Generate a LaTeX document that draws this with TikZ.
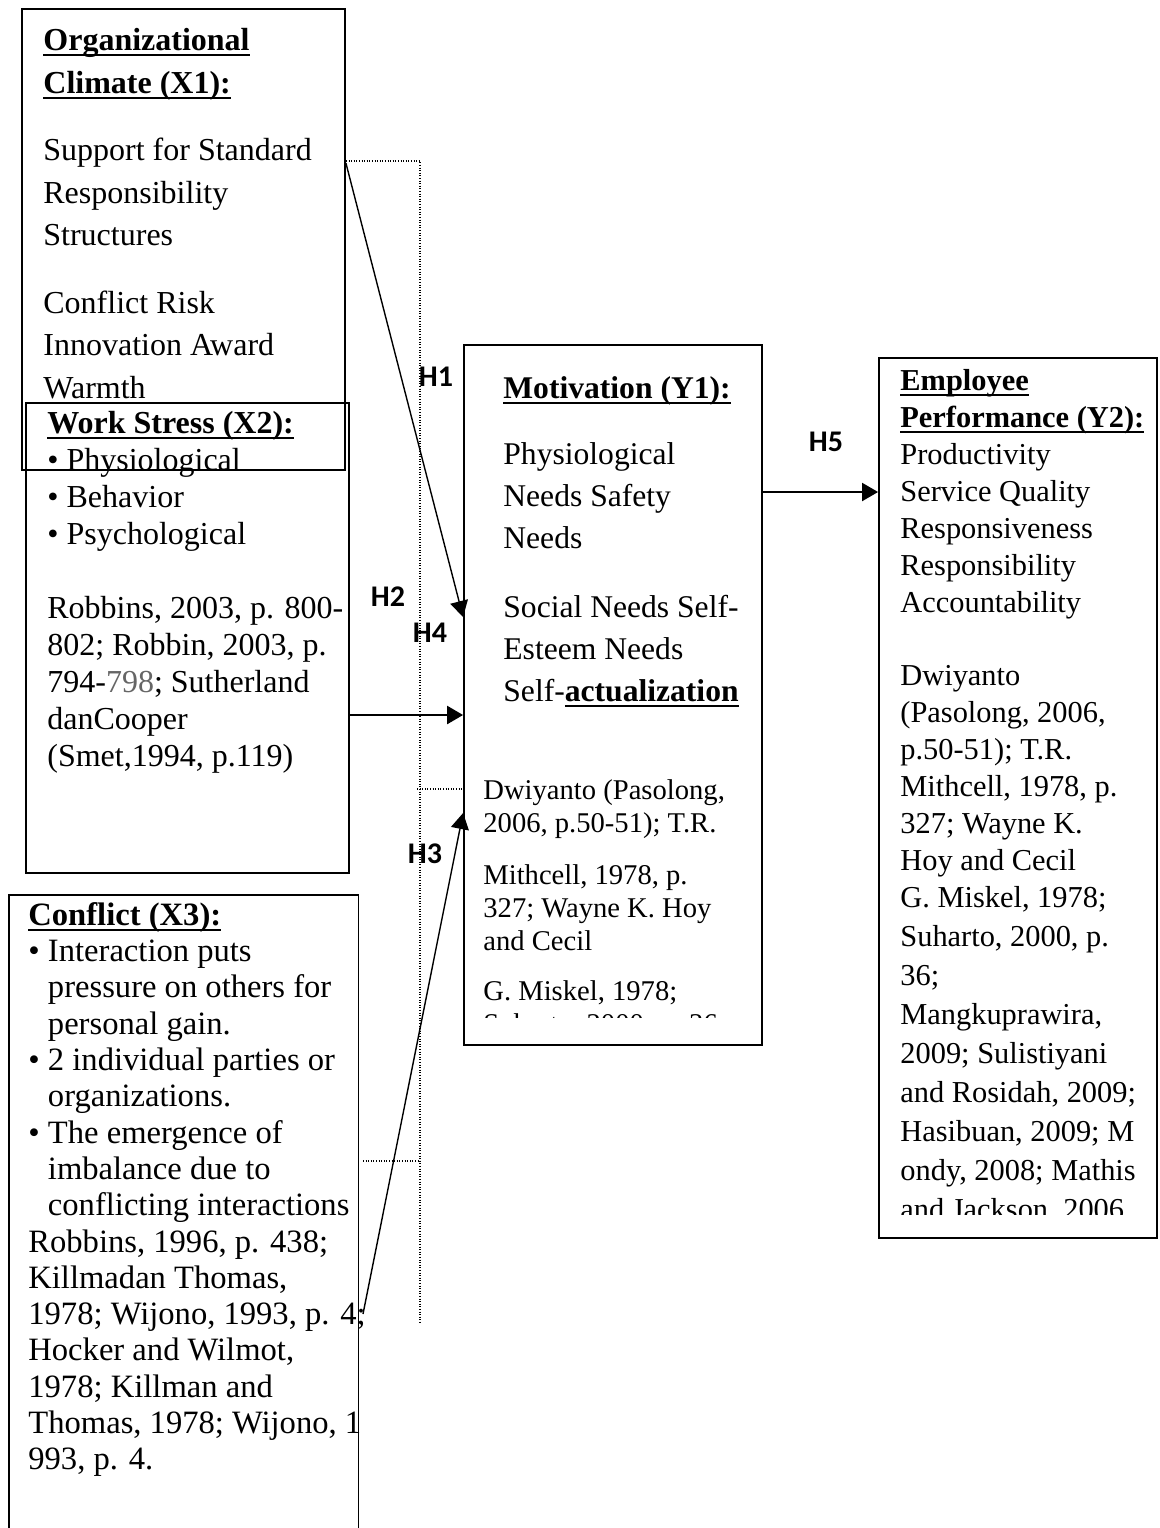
\documentclass[tikz,border=0pt]{standalone}
\usepackage{fontspec}
\setmainfont{Liberation Serif}
\newfontfamily\hlabelfont{Carlito}
\usetikzlibrary{arrows.meta,fit}
% bold heading with a Word-like underline
\newcommand\hdul[1]{\setbox0=\hbox{\bfseries #1}\rlap{\rule[-2.8pt]{\wd0}{1.1pt}}\box0}

\tikzset{
  box/.style={draw, line width=0.9pt, inner sep=0pt},
  blocktext/.style={anchor=north west, align=left, inner sep=0pt},
  hlabel/.style={font=\hlabelfont\bfseries\fontsize{15}{18}\selectfont, inner sep=0pt},
  link/.style={-{Triangle[length=8pt,width=9pt]}, line width=0.7pt},
  bracket/.style={line width=0.6pt, dash pattern=on 0.5pt off 0.8pt}
}

\begin{document}
\begin{tikzpicture}[x=0.5pt,y=-0.5pt]
\useasboundingbox (0,0) rectangle (1160,1528);

% boxes
\node[box, fit={(22,9) (345,470)}] (x1) {};
\node[box, fit={(26,403) (349,873)}] (x2) {};
\node[inner sep=0pt, fit={(9,895) (358,1528)}] (x3) {};
\draw[line width=0.9pt] (x3.south west) |- (x3.north east) -- (x3.south east);
\node[box, fit={(464,345) (762,1045)}] (mot) {};
\node[box, fit={(879,358) (1157,1238)}] (emp) {};

% texts of the boxes
\node[blocktext, font=\fontsize{16}{21.25}\selectfont] (x1txt) at (43,28)
  {\hdul{Organizational}\\ \hdul{Climate (X1):}\\[12.5pt]
   Support for Standard\\ Responsibility\\ Structures\\[12.5pt]
   Conflict Risk\\ Innovation Award\\ Warmth};
\node[blocktext, font=\fontsize{16}{18.5}\selectfont] (x2txt) at (47,411)
  {\hdul{Work Stress (X2):}\\ \textbullet\ Physiological\\ \textbullet\ Behavior\\
   \textbullet\ Psychological\\[18.5pt]
   Robbins, 2003, p. 800-\\ 802; Robbin, 2003, p.\\
   794-{\color{black!60}798}; Sutherland\\ danCooper\\ (Smet,1994, p.119)};
\node[blocktext, font=\fontsize{16.3}{18.15}\selectfont] (x3txt) at (28,902)
  {\hdul{Conflict (X3):}\\
   \textbullet\ Interaction puts\\ \phantom{\textbullet\ }pressure on others for\\
   \phantom{\textbullet\ }personal gain.\\
   \textbullet\ 2 individual parties or\\ \phantom{\textbullet\ }organizations.\\
   \textbullet\ The emergence of\\ \phantom{\textbullet\ }imbalance due to\\
   \phantom{\textbullet\ }conflicting interactions\\
   Robbins, 1996, p. 438;\\ Killmadan Thomas,\\ 1978; Wijono, 1993, p. 4;\\
   Hocker and Wilmot,\\ 1978; Killman and\\ Thomas, 1978; Wijono, 1\\ 993, p. 4.};
\node[blocktext, font=\fontsize{15.8}{21}\selectfont] (mottxt) at (503,376)
  {\hdul{Motivation (Y1):}\\[12pt]
   Physiological\\ Needs Safety\\ Needs\\[13.5pt]
   Social Needs Self-\\ Esteem Needs\\ Self-\hdul{actualization}};
\begin{scope}
\clip (mot.north west) rectangle (762,1017);
\node[blocktext, font=\fontsize{14.3}{16.5}\selectfont] (motref) at (483,779)
  {Dwiyanto (Pasolong,\\ 2006, p.50-51); T.R.\\[9.5pt]
   Mithcell, 1978, p.\\ 327; Wayne K. Hoy\\ and Cecil\\[8.5pt]
   G. Miskel, 1978;\\ Suharto, 2000, p. 36;};
\end{scope}
\begin{scope}
\clip (emp.north west) rectangle (1157,1214);
\node[blocktext, font=\fontsize{15.2}{18.5}\selectfont] (emptxt) at (900,369)
  {\hdul{Employee}\\ \hdul{Performance (Y2):}\\
   Productivity\\ Service Quality\\ Responsiveness\\ Responsibility\\
   Accountability\\[18pt]
   Dwiyanto\\ (Pasolong, 2006,\\ p.50-51); T.R.\\ Mithcell, 1978, p.\\
   327; Wayne K.\\ Hoy and Cecil\\ G. Miskel, 1978;\\[1pt]
   Suharto, 2000, p.\\[1pt] 36;\\[1pt] Mangkuprawira,\\[1pt]
   2009; Sulistiyani\\[1pt] and Rosidah, 2009;\\[1pt] Hasibuan, 2009; M\\[1pt]
   ondy, 2008; Mathis\\[1pt] and Jackson, 2006};
\end{scope}

% hypothesis labels
\node[hlabel] (lh1) at (436,377) {H1};
\node[hlabel] (lh2) at (388,597) {H2};
\node[hlabel] (lh4) at (430,633) {H4};
\node[hlabel] (lh3) at (425,854) {H3};
\node[hlabel] (lh5) at (826,442) {H5};

% dotted bracket
\coordinate (brtop) at (420,161);
\coordinate (brbot) at (420,1323);
\coordinate (brmot) at (417,789);
\coordinate (x3dot) at (363,1161);
\draw[bracket] (x1.east|-brtop) -- (brtop) -- (brbot);
\draw[bracket] (brmot) -- (mot.west|-brmot);
\draw[bracket] (x3dot) -- (brtop|-x3dot);

% arrows
\coordinate (h3s) at (363,1314);
\draw[link] (x1.east|-0,163) -- (mot.west|-0,617);
\draw[link, line width=1.2pt] (x2.east|-0,715) -- (mot.west|-0,715);
\draw[link] (h3s) -- (mot.west|-0,813);
\draw[link, line width=1pt] (mot.east|-0,492) -- (emp.west|-0,492);
\end{tikzpicture}
\end{document}
